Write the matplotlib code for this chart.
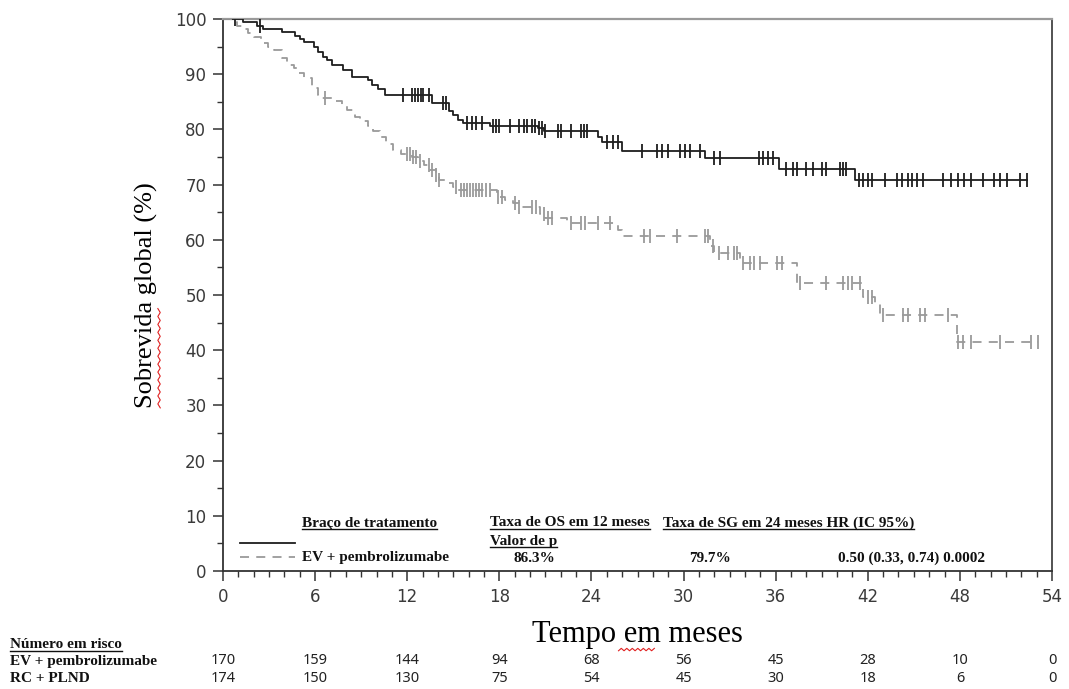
import numpy as np
import matplotlib
matplotlib.use("Agg")
import matplotlib.pyplot as plt
from matplotlib.ticker import MultipleLocator
from matplotlib.lines import Line2D

# ---------------- data ----------------
ev_times = [0, 1.3, 2.2, 2.6, 3.85, 4.7, 5.0, 5.3, 5.9, 6.2, 6.5, 6.8, 7.1, 7.8, 8.4,
            9.45, 9.7, 10.1, 10.55, 13.6, 14.7, 15.0, 15.3, 15.65, 17.4, 20.5, 20.9,
            24.4, 24.7, 26.0, 31.4, 36.2, 41.2]
ev_surv = [100, 99.4, 98.8, 98.2, 97.6, 97.0, 96.3, 95.8, 94.9, 94.0, 93.2, 92.5, 91.7,
           90.8, 89.5, 88.9, 88.0, 87.3, 86.3, 84.8, 83.3, 82.6, 81.7, 81.1, 80.7, 80.2,
           79.7, 78.7, 77.8, 76.1, 74.8, 72.9, 70.8]
ev_end = 52.4
ev_censor = [0.8, 2.4, 11.7, 12.3, 12.5, 12.7, 12.9, 13.0, 13.4, 14.3, 14.5, 15.9, 16.2,
             16.5, 16.9, 17.6, 17.8, 18.0, 18.7, 19.3, 19.6, 19.8, 20.1, 20.3, 20.6, 20.8,
             21.0, 21.8, 22.0, 22.7, 23.3, 23.5, 23.7, 25.0, 25.4, 25.7, 27.3, 28.3, 28.6,
             29.0, 29.8, 30.1, 30.4, 31.1, 32.0, 32.4, 34.9, 35.2, 35.5, 35.8, 36.7, 37.1,
             37.4, 38.0, 38.4, 39.0, 39.3, 40.2, 40.4, 40.6, 41.4, 41.7, 42.0, 42.3, 43.1,
             43.9, 44.2, 44.6, 44.9, 45.2, 45.6, 46.9, 47.4, 47.9, 48.3, 48.7, 49.5, 50.2,
             50.6, 51.1, 51.9, 52.4]

rc_times = [0, 0.5, 0.9, 1.3, 1.6, 2.0, 2.5, 2.9, 3.3, 3.85, 4.2, 4.6, 4.9, 5.3, 5.8, 6.2,
            6.4, 7.2, 7.75, 8.1, 8.6, 8.9, 9.45, 9.8, 10.2, 10.6, 11.1, 11.6, 12.3, 12.7,
            13.1, 13.5, 13.9, 14.1, 14.6, 15.0, 15.3, 17.85, 18.4, 18.9, 19.3, 20.65, 21.0,
            22.4, 25.7, 26.0, 31.7, 32.0, 33.7, 37.4, 41.7, 42.5, 42.8, 47.8]
rc_surv = [100, 99.4, 98.8, 98.2, 97.5, 96.8, 95.6, 95.0, 94.4, 92.9, 91.7, 91.1, 90.2,
           89.3, 87.5, 86.3, 85.7, 85.1, 84.2, 83.5, 82.3, 81.5, 80.7, 79.8, 78.6, 77.4,
           76.3, 75.6, 75.0, 74.3, 73.5, 72.6, 71.7, 70.8, 70.2, 69.5, 69.0, 67.8, 67.2,
           66.6, 66.0, 64.6, 63.9, 63.0, 61.8, 60.6, 58.8, 57.6, 55.8, 52.2, 49.6, 48.6,
           46.4, 41.5]
rc_end = 53.1
rc_censor = [6.65, 12.0, 12.2, 12.4, 12.6, 12.8, 13.4, 13.6, 13.9, 14.1, 15.2, 15.5, 15.7,
             15.9, 16.1, 16.3, 16.5, 16.7, 16.9, 17.1, 17.4, 17.9, 18.2, 19.0, 19.3, 20.1,
             20.4, 20.9, 21.2, 21.4, 22.7, 23.3, 23.6, 24.4, 25.2, 27.4, 27.8, 29.6, 31.4,
             31.6, 31.9, 32.3, 32.9, 33.3, 33.5, 33.9, 34.3, 34.6, 35.0, 36.1, 36.4, 37.6,
             39.3, 40.4, 40.7, 41.0, 41.5, 42.0, 42.3, 43.0, 44.3, 44.6, 45.4, 45.7, 47.2,
             47.9, 48.2, 48.7, 50.6, 52.6, 53.1]

risk_times = [0, 6, 12, 18, 24, 30, 36, 42, 48, 54]
risk_ev = [170, 159, 144, 94, 68, 56, 45, 28, 10, 0]
risk_rc = [174, 150, 130, 75, 54, 45, 30, 18, 6, 0]

arm_ev = "EV + pembrolizumabe"
arm_rc = "RC + PLND"
os12_ev = "86.3%"
os24_ev = "79.7%"
hr_text = "0.50 (0.33, 0.74) 0.0002"

# ---------------- figure ----------------
W, H = 1069, 689
fig = plt.figure(figsize=(W / 100, H / 100), dpi=100)
ax = fig.add_axes([223 / W, 1 - 571 / H, (1052 - 223) / W, (571 - 19) / H])

def step_at(times, surv, t):
    idx = np.searchsorted(np.asarray(times), t, side="right") - 1
    return np.asarray(surv)[idx]

ev_col = "#1e1e1e"
rc_col = "#9a9a9a"

ax.step(ev_times + [ev_end], ev_surv + [ev_surv[-1]], where="post",
        color=ev_col, lw=1.3, zorder=3)
ax.plot(ev_censor, step_at(ev_times, ev_surv, ev_censor), ls="none",
        marker="|", ms=10, mew=1.3, color=ev_col, zorder=4)

ax.step(rc_times + [rc_end], rc_surv + [rc_surv[-1]], where="post",
        color=rc_col, lw=1.3, dashes=(5, 4), zorder=3)
ax.plot(rc_censor, step_at(rc_times, rc_surv, rc_censor), ls="none",
        marker="|", ms=10, mew=1.3, color=rc_col, zorder=4)

ax.set_xlim(0, 54)
ax.set_ylim(0, 100)
ax.set_xticks(risk_times)
ax.set_yticks(np.arange(0, 101, 10))
ax.xaxis.set_minor_locator(MultipleLocator(1))
ax.yaxis.set_minor_locator(MultipleLocator(5))
ax.tick_params(which="major", length=7, width=1.1, color="#333333",
               labelsize=12, labelcolor="#3a3a3a", pad=5)
ax.tick_params(which="minor", length=4, width=1.0, color="#333333")
for lab in ax.get_xticklabels() + ax.get_yticklabels():
    lab.set_family("DejaVu Sans")
for s in ("left", "bottom"):
    ax.spines[s].set_color("#333333")
    ax.spines[s].set_linewidth(1.3)
ax.spines["top"].set_color("#9a9a9a")
ax.spines["top"].set_linewidth(1.6)
ax.spines["right"].set_color("#444444")
ax.spines["right"].set_linewidth(1.3)

serif = "Liberation Serif"
ax.set_ylabel("Sobrevida global (%)", family=serif, fontsize=19, labelpad=12)
ax.set_xlabel("Tempo em meses", family=serif, fontsize=22, labelpad=10)

# legend line samples (axes fraction coords)
ax.plot([0.021, 0.087], [0.051, 0.051], transform=ax.transAxes, color=ev_col, lw=1.3)
ax.plot([0.021, 0.087], [0.025, 0.025], transform=ax.transAxes, color=rc_col, lw=1.3,
        dashes=(5, 4))

def ftext(px, py, s, ha="left", **kw):
    return fig.text(px / W, 1 - py / H, s, ha=ha, va="center", **kw)

bkw = dict(family=serif, fontsize=11, fontweight="bold", color="#111111")
underlined = []
underlined.append(ftext(302, 523, "Braço de tratamento", **bkw))
underlined.append(ftext(490, 523, "Taxa de OS em 12 meses", **bkw))
underlined.append(ftext(663, 523, "Taxa de SG em 24 meses HR (IC 95%)", **bkw))
underlined.append(ftext(490, 541, "Valor de p", **bkw))
ftext(302, 558, arm_ev, **bkw)
ftext(534, 558, os12_ev, ha="center", **bkw)
ftext(710, 558, os24_ev, ha="center", **bkw)
ftext(838, 558, hr_text, **bkw)

# risk table
rkw = dict(family=serif, fontsize=11, fontweight="bold", color="#111111")
underlined.append(ftext(10, 645, "Número em risco", **rkw))
ftext(10, 661, arm_ev, **rkw)
ftext(10, 679, arm_rc, **rkw)
for t, a, b in zip(risk_times, risk_ev, risk_rc):
    xpx = ax.transData.transform((t, 0))[0]
    ftext(xpx, 661, str(a), ha="center", family="Noto Sans", fontsize=10.5, color="#222222")
    ftext(xpx, 679, str(b), ha="center", family="Noto Sans", fontsize=10.5, color="#222222")

fig.canvas.draw()
renderer = fig.canvas.get_renderer()
inv = fig.transFigure.inverted()
for t in underlined:
    bb = t.get_window_extent(renderer)
    (x0, y0) = inv.transform((bb.x0, bb.y0 + 1))
    (x1, _) = inv.transform((bb.x1, bb.y0 + 1))
    fig.add_artist(Line2D([x0, x1], [y0, y0], transform=fig.transFigure,
                          color="#111111", lw=1.0))

# spell-check squiggles
def squiggle(xa, ya, xb, yb, n):
    xs = np.linspace(xa, xb, n)
    ys = np.linspace(ya, yb, n)
    off = np.array([(-1) ** i for i in range(n)]) * 1.2
    if abs(xb - xa) > abs(yb - ya):
        ys = ys + off
    else:
        xs = xs + off
    fig.add_artist(Line2D(xs / W, 1 - ys / H, transform=fig.transFigure,
                          color="#e02020", lw=0.8))

yl = ax.yaxis.label.get_window_extent(renderer)
sx = yl.x1 + 1
sy0 = H - yl.y0
sy1 = H - (yl.y0 + 0.44 * yl.height)
squiggle(sx, sy0, sx, sy1, 26)

xl = ax.xaxis.label.get_window_extent(renderer)
ex0 = xl.x0 + 0.41 * xl.width
ex1 = xl.x0 + 0.58 * xl.width
ey = H - xl.y0 + 1
squiggle(ex0, ey, ex1, ey, 14)

fig.savefig("out.png", dpi=100, facecolor="white")
